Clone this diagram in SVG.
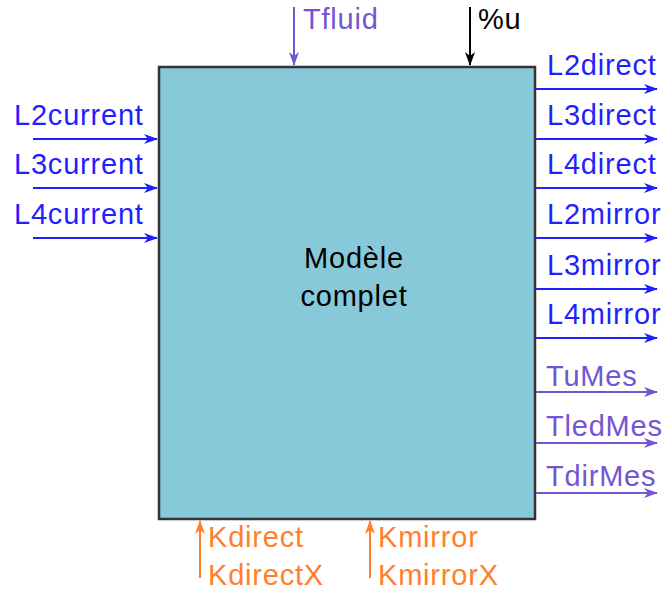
<svg xmlns="http://www.w3.org/2000/svg" width="663" height="597" viewBox="0 0 663 597">
<style>
text{font-family:"Liberation Sans",Arial,sans-serif;font-size:29px;letter-spacing:0.8px}
.b{fill:#1f1fff}.p{fill:#7455d2}.o{fill:#ff7f2a}.k{fill:#000}
.lb{stroke:#1f1fff;stroke-width:2;fill:none}
.lp{stroke:#7455d2;stroke-width:2;fill:none}
.lo{stroke:#ff7f2a;stroke-width:2;fill:none}
.lk{stroke:#000;stroke-width:2;fill:none}
</style>
<defs>
<marker id="ab" markerWidth="14" markerHeight="12" refX="13" refY="6" orient="auto" markerUnits="userSpaceOnUse"><path d="M0,1 L14,6 L0,11 L4,6 Z" fill="#1f1fff"/></marker>
<marker id="ap" markerWidth="14" markerHeight="12" refX="13" refY="6" orient="auto" markerUnits="userSpaceOnUse"><path d="M0,1 L14,6 L0,11 L4,6 Z" fill="#7455d2"/></marker>
<marker id="ao" markerWidth="14" markerHeight="12" refX="13" refY="6" orient="auto" markerUnits="userSpaceOnUse"><path d="M0,1 L14,6 L0,11 L4,6 Z" fill="#ff7f2a"/></marker>
<marker id="ak" markerWidth="14" markerHeight="12" refX="13" refY="6" orient="auto" markerUnits="userSpaceOnUse"><path d="M0,1 L14,6 L0,11 L4,6 Z" fill="#000"/></marker>
</defs>
<g id="block">
<rect x="159" y="67" width="376" height="452" fill="#88c9d9" stroke="#333" stroke-width="2.5"/>
<text x="354" y="268" text-anchor="middle" class="k">Modèle</text>
<text x="354" y="306" text-anchor="middle" class="k">complet</text>
</g>
<g id="connectors">
<path class="lb" d="M33,139 H157" marker-end="url(#ab)"/>
<path class="lb" d="M33,188 H157" marker-end="url(#ab)"/>
<path class="lb" d="M33,238 H157" marker-end="url(#ab)"/>
<path class="lb" d="M536,89 H657" marker-end="url(#ab)"/>
<path class="lb" d="M536,139 H657" marker-end="url(#ab)"/>
<path class="lb" d="M536,188 H657" marker-end="url(#ab)"/>
<path class="lb" d="M536,238 H657" marker-end="url(#ab)"/>
<path class="lb" d="M536,289 H657" marker-end="url(#ab)"/>
<path class="lb" d="M536,338 H657" marker-end="url(#ab)"/>
<path class="lp" d="M536,392 H657" marker-end="url(#ap)"/>
<path class="lp" d="M536,443 H657" marker-end="url(#ap)"/>
<path class="lp" d="M536,493 H657" marker-end="url(#ap)"/>
<path class="lp" d="M294,7 V65" marker-end="url(#ap)"/>
<path class="lk" d="M470,7 V65" marker-end="url(#ak)"/>
<path class="lo" d="M200,578 V521" marker-end="url(#ao)"/>
<path class="lo" d="M370,578 V521" marker-end="url(#ao)"/>
</g>
<g id="inputs">
<text x="14" y="125" class="b">L2current</text>
<text x="14" y="174" class="b">L3current</text>
<text x="14" y="224" class="b">L4current</text>
</g>
<g id="outputs">
<text x="547" y="75" class="b">L2direct</text>
<text x="547" y="125" class="b">L3direct</text>
<text x="547" y="174" class="b">L4direct</text>
<text x="547" y="224" class="b">L2mirror</text>
<text x="547" y="275" class="b">L3mirror</text>
<text x="547" y="324" class="b">L4mirror</text>
<text x="546" y="386" class="p">TuMes</text>
<text x="546" y="436" class="p">TledMes</text>
<text x="546" y="486" class="p">TdirMes</text>
</g>
<g id="top">
<text x="303" y="29" class="p">Tfluid</text>
<text x="478" y="29" class="k">%u</text>
</g>
<g id="bottom">
<text x="208" y="547" class="o">Kdirect</text>
<text x="208" y="585" class="o">KdirectX</text>
<text x="378" y="547" class="o">Kmirror</text>
<text x="378" y="585" class="o">KmirrorX</text>
</g>
</svg>
